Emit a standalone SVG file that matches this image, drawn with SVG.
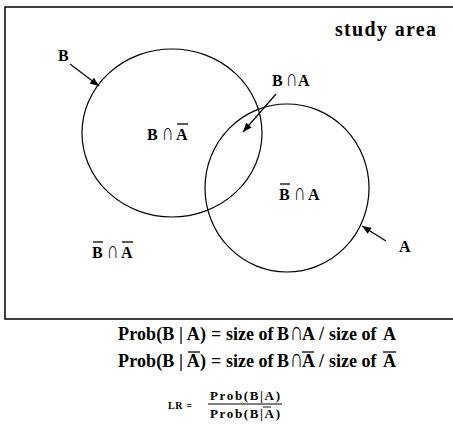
<svg xmlns="http://www.w3.org/2000/svg" width="453" height="430" viewBox="0 0 453 430">
<defs>
<style>
text{font-family:"Liberation Serif","Times New Roman",serif;font-weight:bold;fill:#000}
.lbl{font-size:16px}
.f{font-size:18px}
.s{font-size:10px}
.cap{font-weight:normal}
.ln{stroke:#000;stroke-width:1.2;fill:none}
.bar{stroke:#000;stroke-width:1.3}
</style>
<marker id="ah" viewBox="0 0 10 10" refX="10" refY="5" markerWidth="10" markerHeight="9" markerUnits="userSpaceOnUse" orient="auto">
<path d="M0,1 L10,5 L0,9 z" fill="#000"/>
</marker>
</defs>
<rect id="study-area" x="5" y="7" width="460" height="312" fill="none" stroke="#000" stroke-width="1.5"/>
<text x="335" y="36" style="font-size:20px" textLength="101">study area</text>
<g id="circleB">
<ellipse class="ln" cx="172" cy="133" rx="90" ry="84"/>
</g>
<g id="circleA">
<ellipse class="ln" cx="287" cy="188" rx="82" ry="84"/>
</g>
<g id="connectors">
<line class="ln" x1="70" y1="64" x2="99" y2="86" marker-end="url(#ah)"/>
<line class="ln" x1="276" y1="94" x2="243" y2="132" marker-end="url(#ah)"/>
<line class="ln" x1="386" y1="241" x2="362" y2="226" marker-end="url(#ah)"/>
</g>
<g id="labelB"><text class="lbl" x="58" y="61">B</text></g>
<g id="labelA"><text class="lbl" x="399" y="252">A</text></g>
<g id="BnA"><text class="lbl" x="272" y="86">B</text><text class="lbl cap" transform="translate(286,86) scale(1,1.5)">∩</text><text class="lbl" x="298" y="86">A</text></g>
<g id="BnAbar"><text class="lbl" x="147" y="140">B</text><text class="lbl cap" transform="translate(162,140) scale(1,1.5)">∩</text><text class="lbl" x="176" y="140">A</text><line class="bar" x1="177" y1="124" x2="188" y2="124"/></g>
<g id="BbarnA"><text class="lbl" x="279" y="200">B</text><text class="lbl cap" transform="translate(294,200) scale(1,1.5)">∩</text><text class="lbl" x="308" y="200">A</text><line class="bar" x1="280" y1="184" x2="290" y2="184"/></g>
<g id="BbarnAbar"><text class="lbl" x="92" y="258">B</text><text class="lbl cap" transform="translate(107,258) scale(1,1.5)">∩</text><text class="lbl" x="121" y="258">A</text><line class="bar" x1="93" y1="242" x2="103" y2="242"/><line class="bar" x1="122" y1="242" x2="133" y2="242"/></g>
<g id="formula1">
<text class="f" x="118" y="340" textLength="88" lengthAdjust="spacing">Prob(B | A)</text>
<text class="f" x="211" y="340">=</text>
<text class="f" x="226" y="340">size of</text>
<text class="f" x="277" y="340">B</text>
<text class="f cap" transform="translate(290,340) scale(1,1.45)">∩</text>
<text class="f" x="302" y="340">A</text>
<text class="f" x="319" y="340">/</text>
<text class="f" x="329" y="340">size of</text>
<text class="f" x="383" y="340">A</text>
</g>
<g id="formula2">
<text class="f" x="118" y="367" textLength="88" lengthAdjust="spacing">Prob(B | A)</text>
<text class="f" x="211" y="367">=</text>
<text class="f" x="226" y="367">size of</text>
<text class="f" x="277" y="367">B</text>
<text class="f cap" transform="translate(290,367) scale(1,1.45)">∩</text>
<text class="f" x="302" y="367">A</text>
<text class="f" x="319" y="367">/</text>
<text class="f" x="329" y="367">size of</text>
<text class="f" x="383" y="367">A</text>
<line class="bar" x1="188" y1="352" x2="200" y2="352"/>
<line class="bar" x1="302" y1="352" x2="314" y2="352"/>
<line class="bar" x1="383" y1="352" x2="396" y2="352"/>
</g>
<g id="LR">
<text class="s" x="168" y="409" textLength="24" lengthAdjust="spacing">LR  =</text>
<text style="font-size:13px" x="210" y="400" textLength="70" lengthAdjust="spacing">Prob(B|A)</text>
<line x1="208" y1="404" x2="282" y2="404" stroke="#000" stroke-width="1"/>
<text style="font-size:13px" x="210" y="418" textLength="70" lengthAdjust="spacing">Prob(B|A)</text>
<line x1="263" y1="407" x2="271" y2="407" stroke="#000" stroke-width="0.9"/>
</g>
</svg>
